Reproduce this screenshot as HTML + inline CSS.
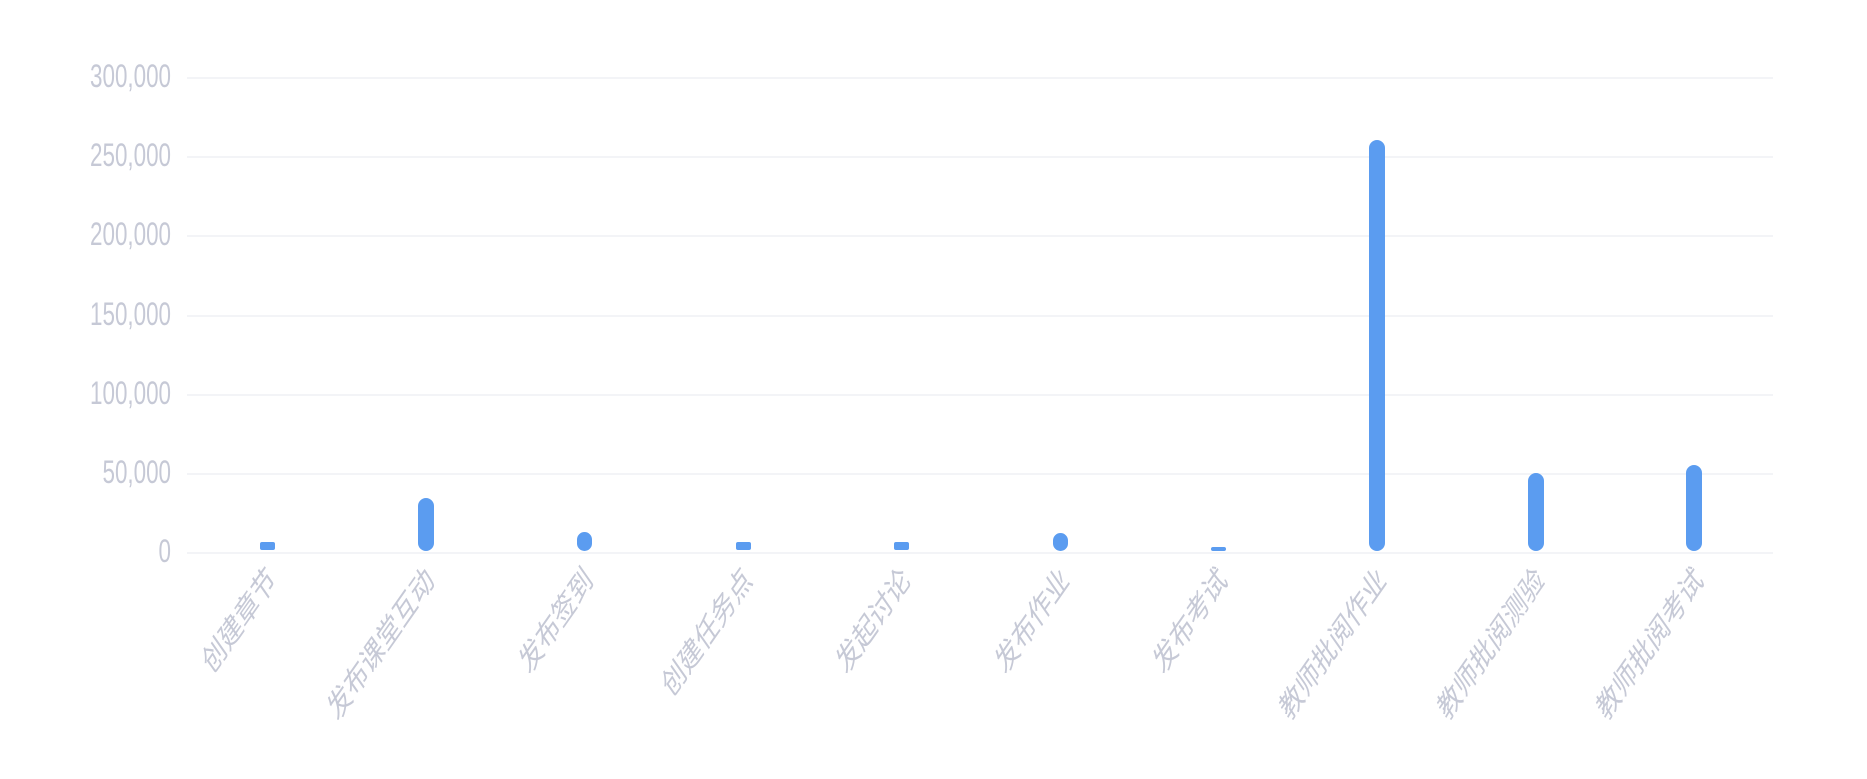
<!DOCTYPE html>
<html><head><meta charset="utf-8"><style>
html,body{margin:0;padding:0;background:#fff;}
svg{display:block;}
text{font-family:"Liberation Sans","Noto Sans CJK SC",sans-serif;fill:#c6c9d6;}
</style></head><body>
<svg width="1867" height="779" viewBox="0 0 1867 779" xmlns="http://www.w3.org/2000/svg">
<g stroke="#f3f4f7" stroke-width="2">
<line x1="187" y1="78" x2="1773" y2="78"/>
<line x1="187" y1="157" x2="1773" y2="157"/>
<line x1="187" y1="236" x2="1773" y2="236"/>
<line x1="187" y1="316" x2="1773" y2="316"/>
<line x1="187" y1="395" x2="1773" y2="395"/>
<line x1="187" y1="474" x2="1773" y2="474"/>
<line x1="187" y1="553" x2="1773" y2="553"/>
</g>
<g font-size="32" text-anchor="end">
<text transform="translate(171,87) scale(0.7,1)">300,000</text>
<text transform="translate(171,166) scale(0.7,1)">250,000</text>
<text transform="translate(171,245) scale(0.7,1)">200,000</text>
<text transform="translate(171,325) scale(0.7,1)">150,000</text>
<text transform="translate(171,404) scale(0.7,1)">100,000</text>
<text transform="translate(171,483) scale(0.7,1)">50,000</text>
<text transform="translate(171,562) scale(0.7,1)">0</text>
</g>
<g fill="#5b9cf0">
<rect x="260" y="542" width="15" height="8" rx="2"/>
<rect x="418" y="498" width="16" height="53" rx="8"/>
<rect x="577" y="532" width="15" height="19" rx="7.5"/>
<rect x="736" y="542" width="15" height="8" rx="2"/>
<rect x="894" y="542" width="15" height="8" rx="2"/>
<rect x="1053" y="533" width="15" height="18" rx="7.5"/>
<rect x="1211" y="547" width="15" height="4" rx="2"/>
<rect x="1369" y="140" width="16" height="411" rx="8"/>
<rect x="1528" y="473" width="16" height="78" rx="8"/>
<rect x="1686" y="465" width="16" height="86" rx="8"/>
</g>
<g font-size="33" text-anchor="end">
<text transform="translate(272,574) scale(0.7,1) rotate(-45)" dy="11">创建章节</text>
<text transform="translate(430,574) scale(0.7,1) rotate(-45)" dy="11">发布课堂互动</text>
<text transform="translate(589,574) scale(0.7,1) rotate(-45)" dy="11">发布签到</text>
<text transform="translate(748,574) scale(0.7,1) rotate(-45)" dy="11">创建任务点</text>
<text transform="translate(906,574) scale(0.7,1) rotate(-45)" dy="11">发起讨论</text>
<text transform="translate(1065,574) scale(0.7,1) rotate(-45)" dy="11">发布作业</text>
<text transform="translate(1223,574) scale(0.7,1) rotate(-45)" dy="11">发布考试</text>
<text transform="translate(1382,574) scale(0.7,1) rotate(-45)" dy="11">教师批阅作业</text>
<text transform="translate(1540,574) scale(0.7,1) rotate(-45)" dy="11">教师批阅测验</text>
<text transform="translate(1699,574) scale(0.7,1) rotate(-45)" dy="11">教师批阅考试</text>
</g>
</svg>
</body></html>
